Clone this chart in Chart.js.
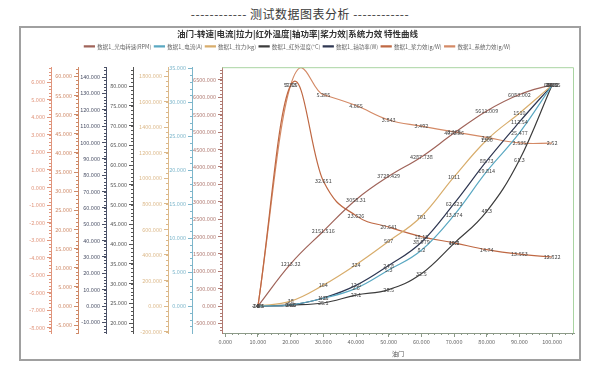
<!DOCTYPE html>
<html>
<head>
<meta charset="utf-8">
<script src="https://cdn.jsdelivr.net/npm/chart.js@4.4.1/dist/chart.umd.min.js"></script>
<style>
  body { margin: 0; background: #fff; width: 600px; height: 372px; overflow: hidden; font-family: "Noto Sans CJK SC", sans-serif; }
  #head { position: absolute; left: 0; top: 5px; width: 600px; text-align: center; font-size: 12px; color: #3a3a3a; letter-spacing: 0.5px; }
  #frame { position: absolute; left: 19px; top: 26px; width: 558px; height: 331px; border: 2px solid #a0a0a0; }
  #chart { position: absolute; left: 0; top: 0; }
</style>
</head>
<body>
<div id="head">------------ 测试数据图表分析 ------------</div>
<div id="frame"><canvas id="chart" width="558" height="331"></canvas></div>
<script>
// throttle %
const throttle = [10, 20, 30, 40, 50, 60, 70, 80, 90, 100];

const rpm     = [0, 1213.32, 2151.516, 3058.31, 3729.429, 4287.738, 4972.86, 5611.009, 6083.002, 6368.5];
const current = [0, 0.15, 1.15, 2.6, 5.3, 8.2, 13.374, 19.814, 25.477, 32.5];
const thrust  = [0, 38, 164, 324, 507, 701, 1011, 1300, 1510, 1730];
const temp    = [24.3, 24.6, 25.1, 27.1, 28.5, 32.5, 40.2, 48.3, 61.3, 80.3];
const power   = [0, 0.6, 4.9, 12.6, 24.8, 38.979, 62.623, 88.73, 112.54, 135.1];
const propEff = [0, 57.65, 32.651, 23.626, 20.641, 18.15, 16.5, 14.74, 13.553, 12.822];
const sysEff  = [-6.75, 5.83, 5.285, 4.665, 3.843, 3.492, 3.165, 2.85, 2.535, 2.52];

const seriesNames = ["数据1_光电转速(RPM)", "数据1_电流(A)", "数据1_拉力(kg)", "数据1_红外温度(°C)",
                     "数据1_轴功率(W)", "数据1_桨力效(g/W)", "数据1_系统力效(g/W)"];

Chart.defaults.font.family = '"Noto Sans CJK SC", "Noto Sans", sans-serif';

const SMOOTH = 0.2;

const toXY = arr => arr.map((v, i) => ({ x: throttle[i], y: v }));
const fmt = v => String(+v.toFixed(3));

// ticks on whole multiples of step inside [min, max]
function stepTicks(s, step) {
  const out = [];
  for (let v = Math.ceil(s.min / step) * step; v <= s.max + 1e-9; v += step) {
    out.push({ value: Math.round(v * 1000) / 1000 });
  }
  s.ticks = out;
}

// y axis helper: leftmost axis gets the highest weight
function yAxis(min, max, step, color, weight, width) {
  return {
    type: "linear", position: "left", min: min, max: max, weight: weight,
    afterBuildTicks: s => stepTicks(s, step),
    afterFit: s => { s.width = width; },
    border: { display: true, color: color, width: 1 },
    grid: { drawOnChartArea: false, drawTicks: true, tickLength: 4, color: color },
    ticks: { padding: 2, color: color, font: { size: 5.5 }, callback: v => v.toFixed(3) }
  };
}

const legendGap = {
  id: "legendGap",
  beforeInit(chart) {
    const fit = chart.legend.fit;
    chart.legend.fit = function () { fit.call(this); this.height += 8; };
  }
};

// plain catmull-rom style control points (not distance weighted)
const uniformSpline = {
  id: "uniformSpline",
  beforeDatasetsDraw(chart) {
    chart.data.datasets.forEach((ds, i) => {
      const meta = chart.getDatasetMeta(i);
      const pts = meta.data;
      meta.dataset.updateControlPoints(chart.chartArea, "x");
      for (let j = 1; j < pts.length - 1; j++) {
        const dx = pts[j + 1].x - pts[j - 1].x;
        const dy = pts[j + 1].y - pts[j - 1].y;
        pts[j].cp1x = pts[j].x - SMOOTH * dx;
        pts[j].cp1y = pts[j].y - SMOOTH * dy;
        pts[j].cp2x = pts[j].x + SMOOTH * dx;
        pts[j].cp2y = pts[j].y + SMOOTH * dy;
      }
    });
  }
};

const axisDeco = {
  id: "axisDeco",
  afterDraw(chart) {
    const { ctx, chartArea: a } = chart;
    ctx.save();
    ctx.lineWidth = 1;
    ctx.strokeStyle = "#a9d4a2";
    ctx.beginPath();
    ctx.moveTo(a.left, a.top + 0.5);
    ctx.lineTo(a.right - 0.5, a.top + 0.5);
    ctx.lineTo(a.right - 0.5, a.bottom);
    ctx.stroke();
    // minor ticks
    Object.values(chart.scales).forEach(s => {
      const t = s.ticks;
      if (t.length < 2) return;
      const step = t[1].value - t[0].value;
      const sub = step / 5;
      ctx.strokeStyle = s.options.border.color;
      ctx.beginPath();
      for (let k = -5; k <= t.length * 5 + 5; k++) {
        const v = t[0].value + k * sub;
        if (v < s.min || v > s.max) continue;
        const p = Math.round(s.getPixelForValue(v)) + 0.5;
        if (s.isHorizontal()) { ctx.moveTo(p, s.top); ctx.lineTo(p, s.top + 2); }
        else { ctx.moveTo(s.right - 2, p); ctx.lineTo(s.right, p); }
      }
      ctx.stroke();
    });
    ctx.restore();
  }
};

const valueLabels = {
  id: "valueLabels",
  afterDatasetsDraw(chart) {
    const ctx = chart.ctx;
    ctx.save();
    ctx.font = '5.5px "Noto Sans CJK SC", sans-serif';
    ctx.fillStyle = "#4a4a4a";
    ctx.textAlign = "center";
    ctx.textBaseline = "middle";
    chart.data.datasets.forEach((ds, i) => {
      chart.getDatasetMeta(i).data.forEach((pt, j) => {
        ctx.fillText(fmt(ds.data[j].y), pt.x, pt.y);
      });
    });
    ctx.restore();
  }
};

const colors = {
  rpm: "#a0645a", current: "#5aa8c2", thrust: "#d8ad6c", temp: "#3c3c3c",
  power: "#2f3752", prop: "#bf6843", sys: "#d48a66"
};

function line(label, data, color, axis) {
  return { label: label, data: toXY(data), yAxisID: axis, borderColor: color, backgroundColor: color,
           borderWidth: 1.2, pointRadius: 0, tension: 0.4, capBezierPoints: false, fill: false };
}

new Chart(document.getElementById("chart"), {
  type: "line",
  data: {
    datasets: [
      line(seriesNames[0], rpm, colors.rpm, "yRpm"),
      line(seriesNames[1], current, colors.current, "yCur"),
      line(seriesNames[2], thrust, colors.thrust, "yThr"),
      line(seriesNames[3], temp, colors.temp, "yTemp"),
      line(seriesNames[4], power, colors.power, "yPow"),
      line(seriesNames[5], propEff, colors.prop, "yProp"),
      line(seriesNames[6], sysEff, colors.sys, "ySys")
    ]
  },
  options: {
    responsive: false,
    animation: false,
    devicePixelRatio: 1,
    layout: { padding: { left: 0, right: 5, top: 0, bottom: 0 } },
    plugins: {
      title: {
        display: true,
        text: "油门-转速|电流|拉力|红外温度|轴功率|桨力效|系统力效 特性曲线",
        color: "#333", font: { size: 8.5, weight: "bold" },
        padding: { top: 0.5, bottom: 2 }
      },
      legend: {
        labels: { boxWidth: 10, boxHeight: 1, padding: 3, color: "#666", font: { size: 5.5 } }
      },
      tooltip: { enabled: false }
    },
    scales: {
      x: {
        type: "linear", min: -1, max: 106.7,
        afterBuildTicks: s => stepTicks(s, 10),
        afterFit: s => { s.height = 26; },
        border: { display: true, color: "#8c9a88" },
        grid: { drawOnChartArea: false, tickLength: 4, color: "#8c9a88" },
        ticks: { maxRotation: 0, padding: 2, color: "#666", font: { size: 5.5 }, callback: v => v.toFixed(3) },
        title: { display: true, text: "油门", color: "#555", font: { size: 6 }, padding: { top: 0, bottom: 2 } }
      },
      ySys:  yAxis(-8.29, 6.85, 1, "#e0957c", 7, 30),
      yProp: yAxis(-7.04, 62.4, 5, "#cf8a68", 6, 27),
      yPow:  yAxis(-16.5, 146, 10, "#4a5066", 5, 28),
      yTemp: yAxis(17.5, 84.8, 5, "#555555", 4, 27),
      yThr:  yAxis(-211, 1870, 200, "#dcb98a", 3, 35),
      yCur:  yAxis(-3.97, 35.15, 5, "#7db6cb", 2, 24),
      yRpm:  yAxis(-776, 6868, 500, "#b07a72", 1, 30)
    }
  },
  plugins: [legendGap, uniformSpline, axisDeco, valueLabels]
});
</script>
</body>
</html>
